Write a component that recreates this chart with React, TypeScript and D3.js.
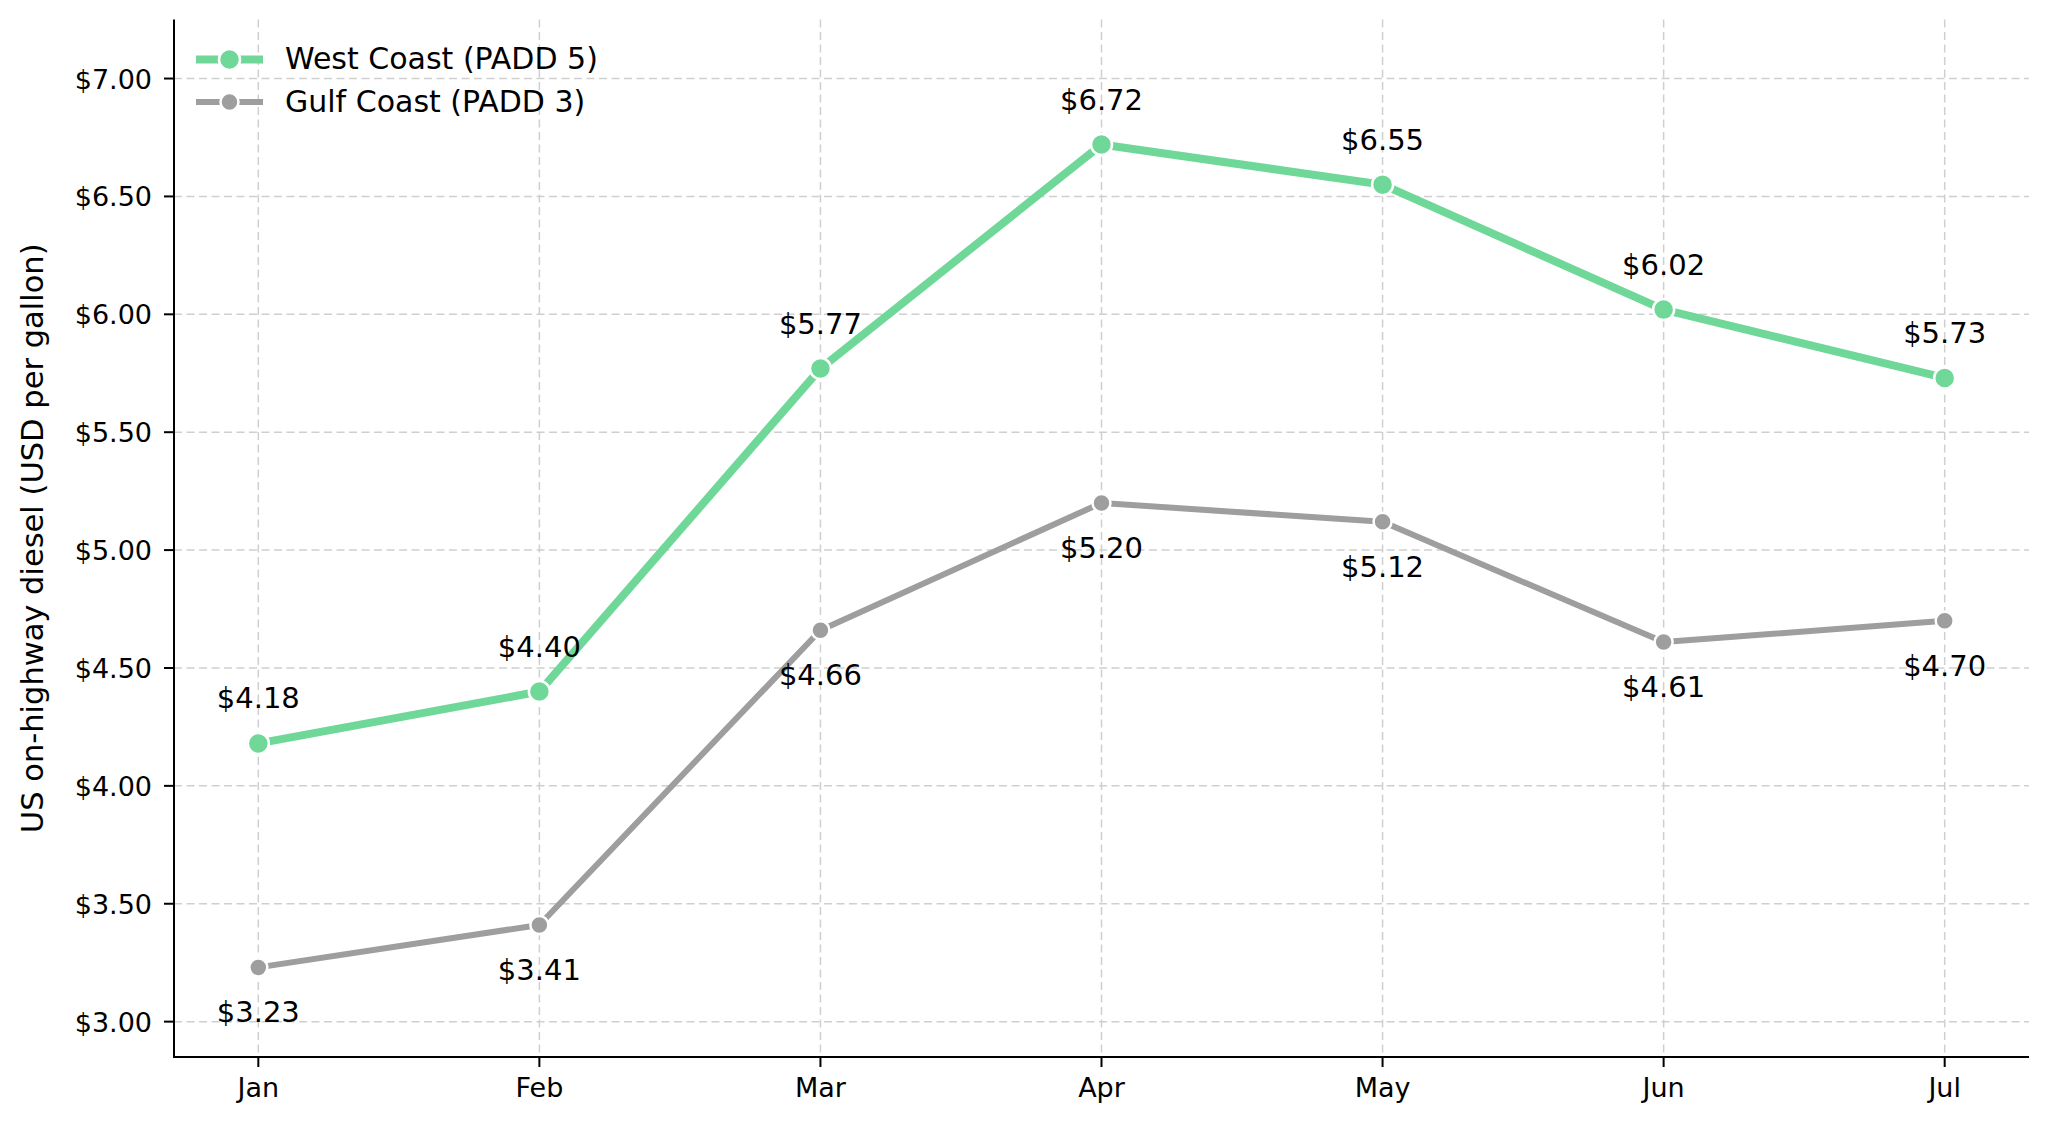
import React from "react";
import * as d3 from "d3";

const months = ["Jan", "Feb", "Mar", "Apr", "May", "Jun", "Jul"];
const westCoast = [4.18, 4.4, 5.77, 6.72, 6.55, 6.02, 5.73];
const gulfCoast = [3.23, 3.41, 4.66, 5.2, 5.12, 4.61, 4.7];
const yTicks = [3.0, 3.5, 4.0, 4.5, 5.0, 5.5, 6.0, 6.5, 7.0];
const seriesNames = ["West Coast (PADD 5)", "Gulf Coast (PADD 3)"];

const W = 2048;
const H = 1123;
const FONT = "'DejaVu Sans', sans-serif";
const GREEN = "#6fd898";
const GRAY = "#9e9e9e";

export default function App() {
  const left = 174;
  const right = 2029;
  const top = 19.6;
  const bottom = 1057;

  const x = d3.scalePoint<string>().domain(months).range([left, right]).padding(0.3);
  const y = d3.scaleLinear().domain([2.85, 7.25]).range([bottom, top]);

  const line = d3
    .line<number>()
    .x((_, i) => x(months[i]) as number)
    .y((d) => y(d));

  const series = [
    { name: seriesNames[0], values: westCoast, color: GREEN, lw: 8, r: 10.5, above: true },
    { name: seriesNames[1], values: gulfCoast, color: GRAY, lw: 6, r: 9, above: false },
  ];

  const fmt = (v: number) => "$" + v.toFixed(2);

  return (
    <svg
      width={W}
      height={H}
      style={{ position: "absolute", left: 0, top: 0, background: "#fff" }}
      fontFamily={FONT}
    >
      <rect x={0} y={0} width={W} height={H} fill="#fff" />
      {/* grid */}
      <g stroke="#cfcfcf" strokeWidth={1.5} strokeDasharray="8,4.5">
        {yTicks.map((t) => (
          <line key={"gy" + t} x1={left} x2={right} y1={y(t)} y2={y(t)} />
        ))}
        {months.map((m) => (
          <line key={"gx" + m} x1={x(m)} x2={x(m)} y1={top} y2={bottom} />
        ))}
      </g>

      {/* series */}
      {series.map((s) => (
        <g key={s.name}>
          <path d={line(s.values) || ""} fill="none" stroke={s.color} strokeWidth={s.lw} strokeLinejoin="round" />
          {s.values.map((v, i) => (
            <circle
              key={i}
              cx={x(months[i])}
              cy={y(v)}
              r={s.r}
              fill={s.color}
              stroke="#fff"
              strokeWidth={2.5}
            />
          ))}
          {s.values.map((v, i) => (
            <text
              key={"t" + i}
              x={x(months[i])}
              y={s.above ? y(v) - 35 : y(v) + 55}
              textAnchor="middle"
              fontSize={29}
              fill="#000"
            >
              {fmt(v)}
            </text>
          ))}
        </g>
      ))}

      {/* axes */}
      <line x1={left} x2={left} y1={top} y2={bottom} stroke="#000" strokeWidth={2} />
      <line x1={left - 1} x2={right} y1={bottom} y2={bottom} stroke="#000" strokeWidth={2} />
      {yTicks.map((t) => (
        <g key={"yt" + t}>
          <line x1={left - 10} x2={left} y1={y(t)} y2={y(t)} stroke="#000" strokeWidth={2} />
          <text x={left - 22} y={y(t) + 10} textAnchor="end" fontSize={27} fill="#000">
            {fmt(t)}
          </text>
        </g>
      ))}
      {months.map((m) => (
        <g key={"xt" + m}>
          <line x1={x(m)} x2={x(m)} y1={bottom} y2={bottom + 10} stroke="#000" strokeWidth={2} />
          <text x={x(m)} y={bottom + 40} textAnchor="middle" fontSize={27} fill="#000">
            {m}
          </text>
        </g>
      ))}
      <text
        transform={`translate(${42.5},${(top + bottom) / 2}) rotate(-90)`}
        textAnchor="middle"
        fontSize={30.5}
        fill="#000"
      >
        US on-highway diesel (USD per gallon)
      </text>

      {/* legend */}
      {series.map((s, i) => {
        const ly = 59.5 + i * 42.5;
        return (
          <g key={"lg" + i}>
            <line x1={196} x2={263} y1={ly} y2={ly} stroke={s.color} strokeWidth={s.lw} />
            <circle cx={229.5} cy={ly} r={s.r} fill={s.color} stroke="#fff" strokeWidth={2.5} />
            <text x={285} y={ly + 9.5} fontSize={30} fill="#000">
              {s.name}
            </text>
          </g>
        );
      })}
    </svg>
  );
}
